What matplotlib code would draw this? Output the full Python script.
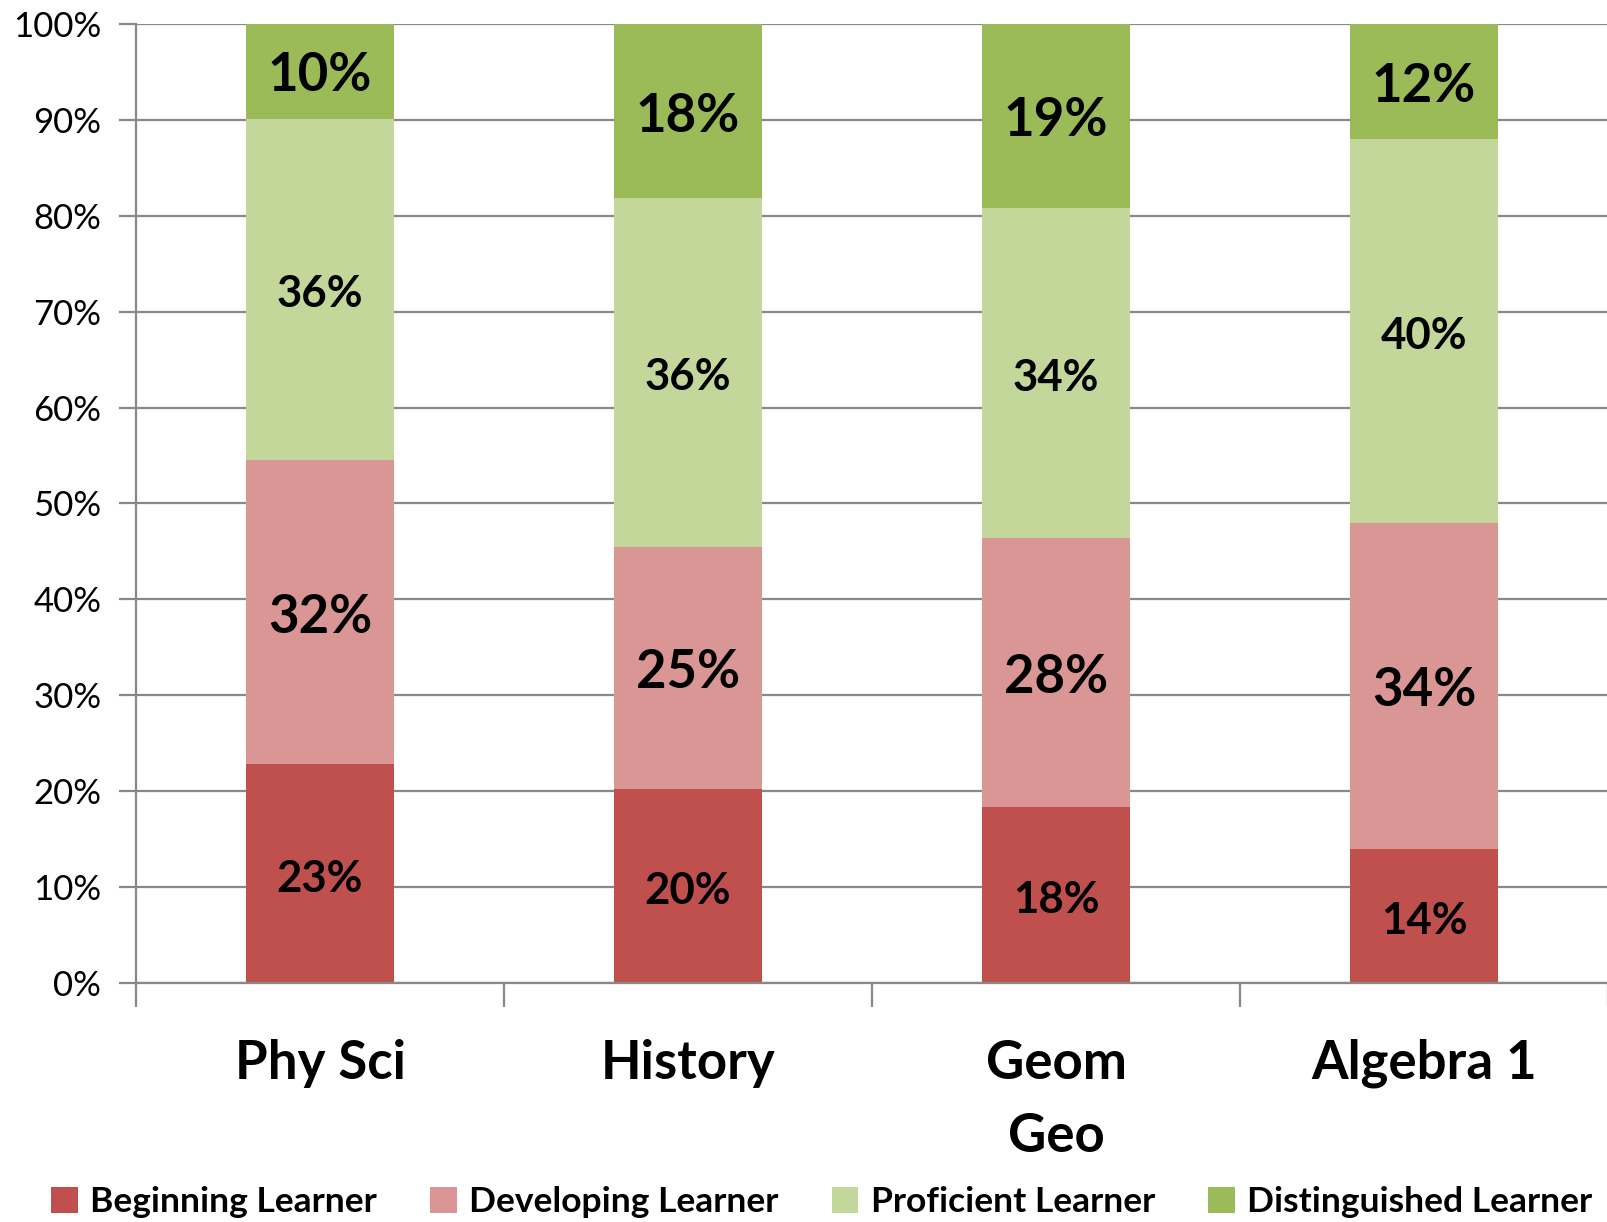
import numpy as np
import matplotlib
matplotlib.use("Agg")
import matplotlib.pyplot as plt
from matplotlib.patches import Patch

plt.rcParams['font.family'] = ['Lato', 'DejaVu Sans']

categories = ["Phy Sci", "History", "Geom\nGeo", "Algebra 1"]
series = ["Beginning Learner", "Developing Learner", "Proficient Learner", "Distinguished Learner"]
beginning = [22.8, 20.2, 18.3, 14.0]
developing = [31.7, 25.3, 28.1, 34.0]
proficient = [35.6, 36.3, 34.4, 40.0]
distinguished = [10.0, 18.2, 19.2, 12.0]

colors = ["#C0504D", "#DA9694", "#C4D79B", "#9BBB59"]
label_sizes = [31.5, 38, 31.5, 38]

fig = plt.figure(figsize=(16.08, 12.22), dpi=100)
ax = fig.add_axes([0.0846, 0.1956, 0.9154, 0.7848])

x = np.arange(len(categories))
bottom = np.zeros(len(categories))
for vals, col, fs in zip([beginning, developing, proficient, distinguished], colors, label_sizes):
    vals = np.array(vals)
    ax.bar(x, vals, width=0.4, bottom=bottom, color=col, zorder=2)
    for xi, b, v in zip(x, bottom, vals):
        ax.annotate(f"{round(v):d}%", (xi, b + v / 2), xytext=(0, -3.5),
                    textcoords="offset points", ha="center", va="center",
                    fontsize=fs, fontweight="bold", color="black", zorder=3)
    bottom += vals

ax.set_xlim(-0.5, 3.5)
ax.set_ylim(0, 100)
ax.set_yticks(np.arange(0, 101, 10))
ax.set_yticklabels([f"{v}%" for v in range(0, 101, 10)], fontsize=25)
ax.yaxis.grid(True, color="#888888", linewidth=1.6, zorder=0)
ax.set_axisbelow(True)

ax.set_xticks(x)
ax.set_xticklabels(categories, fontsize=38, fontweight="bold", linespacing=1.6)
ax.tick_params(axis="x", length=0, pad=40)
ax.set_xticks(np.arange(-0.5, 4.0, 1.0), minor=True)
ax.tick_params(axis="x", which="minor", length=17, width=1.6, color="#888888")
ax.tick_params(axis="y", length=12, width=1.6, color="#888888", pad=13)

for side in ["top", "right"]:
    ax.spines[side].set_visible(False)
for side in ["left", "bottom"]:
    ax.spines[side].set_color("#888888")
    ax.spines[side].set_linewidth(1.6)

handles = [Patch(facecolor=c, edgecolor="none") for c in colors]
fig.legend(handles, series, loc="lower center", bbox_to_anchor=(0.511, -0.023), ncol=4,
           frameon=False, prop={"size": 25.5, "weight": "bold"},
           handlelength=0.75, handleheight=0.75, handletextpad=0.35, columnspacing=1.5)

fig.savefig("out.png", dpi=100)
